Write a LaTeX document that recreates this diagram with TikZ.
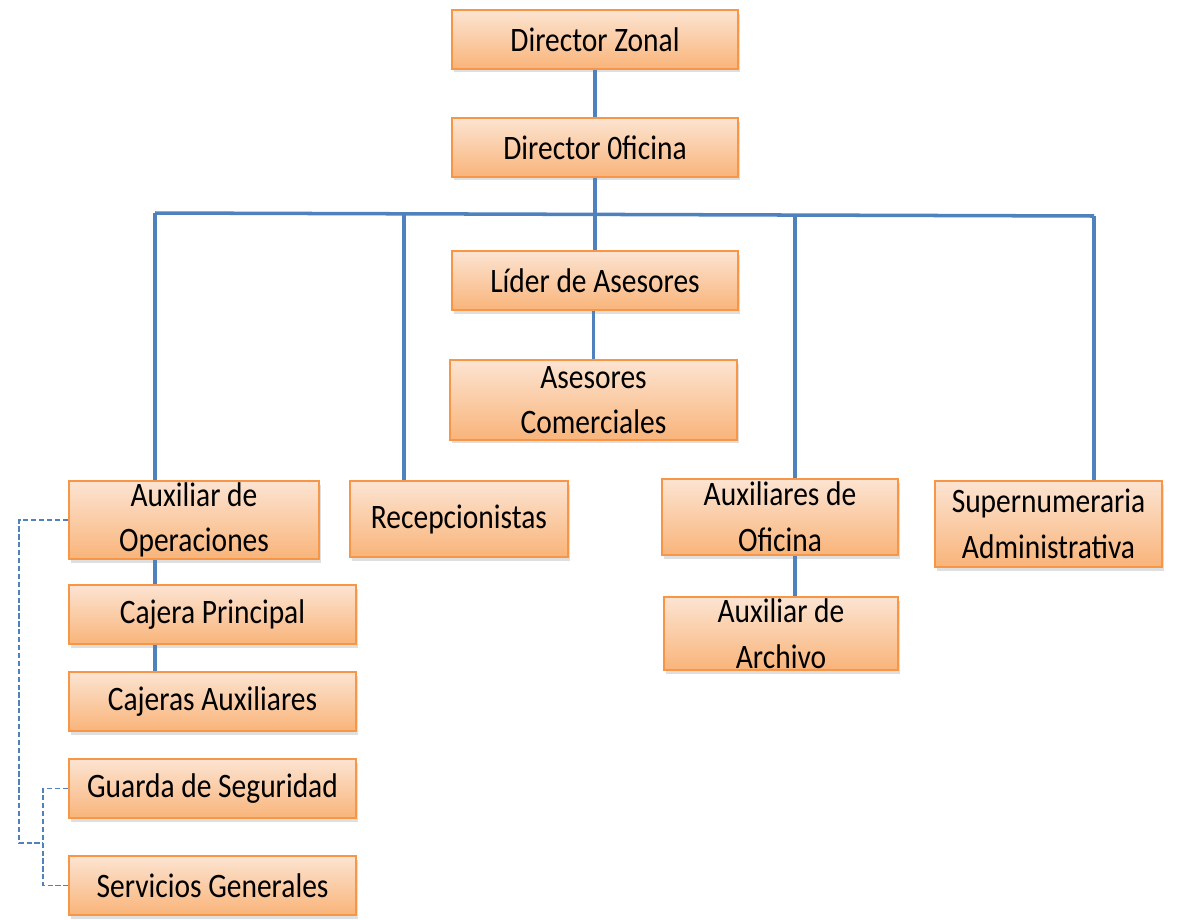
\documentclass[tikz,border=0pt]{standalone}
\usepackage{fontspec}
\setmainfont{Carlito}[FakeStretch=0.86]
\usetikzlibrary{shadows}
\definecolor{boxline}{HTML}{F79646}
\definecolor{boxtop}{HTML}{FCE4D2}
\definecolor{boxbot}{HTML}{F9B47A}
\definecolor{linkblue}{HTML}{4F81BD}

\begin{document}
\begin{tikzpicture}[x=0.02cm, y=-0.02cm]
        \tikzstyle{orgbox}=[draw=boxline, line width=1.2pt, top color=boxtop, bottom color=boxbot, shape=rectangle, align=center, inner sep=0pt, font=\fontsize{19.5}{26}\selectfont, drop shadow={opacity=0.25, shadow xshift=0.04cm, shadow yshift=-0.07cm}];
        \tikzstyle{link}=[line width=2pt, color=linkblue];
        \tikzstyle{dashlink}=[line width=0.8pt, color=linkblue, dash pattern=on 3pt off 1.5pt];

        \useasboundingbox (0,0) rectangle (1194,920);

        % top of the chart
        \node[orgbox, minimum width=5.72cm, minimum height=1.18cm] (dz) at (595,39.5) {Director Zonal};
        \node[orgbox, minimum width=5.72cm, minimum height=1.18cm] (dof) at (595,147.5) {Director 0ficina};
        \node[orgbox, minimum width=5.72cm, minimum height=1.18cm] (lider) at (595,280.5) {Líder de Asesores};
        \node[orgbox, minimum width=5.74cm, minimum height=1.6cm] (asesores) at (593.5,400) {Asesores\\Comerciales};

        % second row
        \node[orgbox, minimum width=5.0cm, minimum height=1.56cm] (auxop) at (194,520) {Auxiliar de\\Operaciones};
        \node[orgbox, minimum width=4.36cm, minimum height=1.52cm] (recep) at (459,519) {Recepcionistas};
        \node[orgbox, minimum width=4.72cm, minimum height=1.52cm] (auxofi) at (780,517) {Auxiliares de\\Oficina};
        \node[orgbox, minimum width=4.54cm, minimum height=1.72cm] (super) at (1048.5,524) {Supernumeraria\\Administrativa};

        % under the second row
        \node[orgbox, minimum width=5.74cm, minimum height=1.18cm] (cajp) at (212.5,614.5) {Cajera Principal};
        \node[orgbox, minimum width=5.74cm, minimum height=1.18cm] (cajas) at (212.5,701.5) {Cajeras Auxiliares};
        \node[orgbox, minimum width=5.74cm, minimum height=1.18cm] (guarda) at (212.5,788.5) {Guarda de Seguridad};
        \node[orgbox, minimum width=5.74cm, minimum height=1.18cm] (serv) at (212.5,885.5) {Servicios Generales};
        \node[orgbox, minimum width=4.68cm, minimum height=1.46cm] (archivo) at (781,633.5) {Auxiliar de\\Archivo};

        % bus points
        \coordinate (busL) at (155,213);
        \coordinate (busR) at (1094,216);
        \coordinate (bus2) at (404,214);
        \coordinate (bus4) at (795,215);
        \coordinate (d1) at (19,843);
        \coordinate (d2) at (43,843);

        % connectors
        \draw[link] (dz) -- (dof);
        \draw[link] (dof) -- (lider);
        \draw[link] (lider.south -| asesores) -- (asesores);
        \draw[link] (busL) -- (busR);
        \draw[link] (busL) -- (busL |- auxop.north);
        \draw[link] (bus2) -- (bus2 |- recep.north);
        \draw[link] (bus4) -- (bus4 |- auxofi.north);
        \draw[link] (busR) -- (busR |- super.north);
        \draw[link] (busL |- auxop.south) -- (busL |- cajp.north);
        \draw[link] (busL |- cajp.south) -- (busL |- cajas.north);
        \draw[link] (bus4 |- auxofi.south) -- (bus4 |- archivo.north);

        % dashed links
        \draw[dashlink] (auxop.west) -| (d1) -- (d2);
        \draw[dashlink] (guarda.west) -| (d2) |- (serv.west);
\end{tikzpicture}
\end{document}
